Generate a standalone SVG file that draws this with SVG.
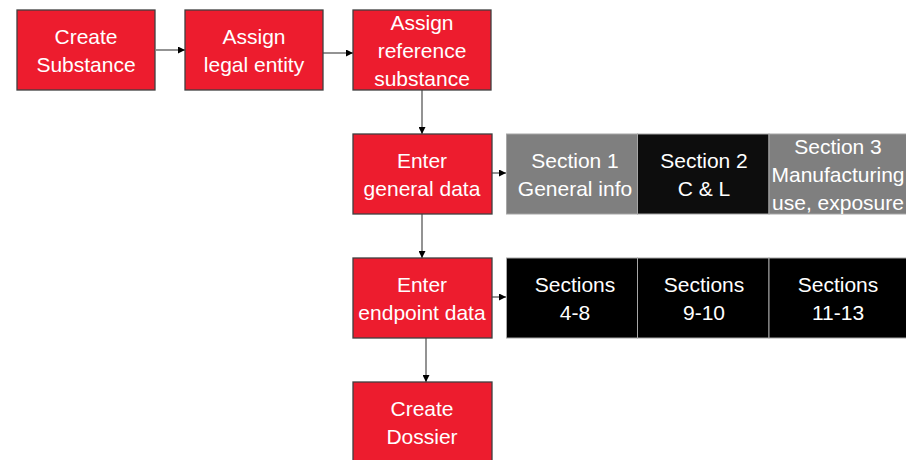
<svg xmlns="http://www.w3.org/2000/svg" width="906" height="460" viewBox="0 0 906 460">
<defs>
<style>
.red{fill:#ED1C2E;stroke:#3f3f3f;stroke-width:1.3}
.gray{fill:#7f7f7f;stroke:#a6a6a6;stroke-width:1}
.dark{fill:#0d0d0d;stroke:#a6a6a6;stroke-width:1}
.black{fill:#000;stroke:#a6a6a6;stroke-width:1}
text{font-family:"Liberation Sans",Arial,sans-serif;font-size:21px;fill:#fff;text-anchor:middle}
.conn{stroke:#6f6f6f;stroke-width:1.5;fill:none;marker-end:url(#ah)}
</style>
<marker id="ah" viewBox="0 0 10 10" refX="10" refY="5" markerWidth="7" markerHeight="7" markerUnits="userSpaceOnUse" orient="auto">
<path d="M0,0 L10,5 L0,10 z" fill="#000"/>
</marker>
</defs>
<rect width="906" height="460" fill="#fff"/>
<g id="connectors">
<line class="conn" x1="156" y1="50" x2="185" y2="50"/>
<line class="conn" x1="323" y1="53" x2="353" y2="53"/>
<line class="conn" x1="422" y1="90" x2="422" y2="134"/>
<line class="conn" x1="492" y1="173" x2="506" y2="173"/>
<line class="conn" x1="422" y1="214" x2="422" y2="258"/>
<line class="conn" x1="492" y1="297" x2="506" y2="297"/>
<line class="conn" x1="426" y1="338" x2="426" y2="382"/>
</g>
<g id="create-substance">
<rect class="red" x="17" y="10" width="138" height="80"/>
<text x="86" y="44">Create</text>
<text x="86" y="72">Substance</text>
</g>
<g id="assign-legal-entity">
<rect class="red" x="185" y="10" width="138" height="80"/>
<text x="254" y="44">Assign</text>
<text x="254" y="72">legal entity</text>
</g>
<g id="assign-reference-substance">
<rect class="red" x="353" y="10" width="138" height="80"/>
<text x="422" y="30">Assign</text>
<text x="422" y="58">reference</text>
<text x="422" y="86">substance</text>
</g>
<g id="enter-general-data">
<rect class="red" x="353" y="134" width="139" height="80"/>
<text x="422" y="168">Enter</text>
<text x="422" y="196">general data</text>
</g>
<g id="section-1">
<rect class="gray" x="506.5" y="134" width="131" height="80"/>
<text x="575" y="168">Section 1</text>
<text x="575" y="196">General info</text>
</g>
<g id="section-2">
<rect class="dark" x="637.5" y="134" width="131.5" height="80"/>
<text x="704" y="168">Section 2</text>
<text x="704" y="196">C &amp; L</text>
</g>
<g id="section-3">
<rect class="gray" x="769" y="134" width="140" height="80"/>
<text x="838" y="154">Section 3</text>
<text x="838" y="182">Manufacturing</text>
<text x="838" y="210">use, exposure</text>
</g>
<g id="enter-endpoint-data">
<rect class="red" x="353" y="258" width="139" height="80"/>
<text x="422" y="292">Enter</text>
<text x="422" y="320">endpoint data</text>
</g>
<g id="sections-4-8">
<rect class="black" x="506.5" y="258" width="131" height="80"/>
<text x="575" y="292">Sections</text>
<text x="575" y="320">4-8</text>
</g>
<g id="sections-9-10">
<rect class="black" x="637.5" y="258" width="131.5" height="80"/>
<text x="704" y="292">Sections</text>
<text x="704" y="320">9-10</text>
</g>
<g id="sections-11-13">
<rect class="black" x="769" y="258" width="140" height="80"/>
<text x="838" y="292">Sections</text>
<text x="838" y="320">11-13</text>
</g>
<g id="create-dossier">
<rect class="red" x="353" y="382" width="139" height="80"/>
<text x="422" y="416">Create</text>
<text x="422" y="444">Dossier</text>
</g>
</svg>
